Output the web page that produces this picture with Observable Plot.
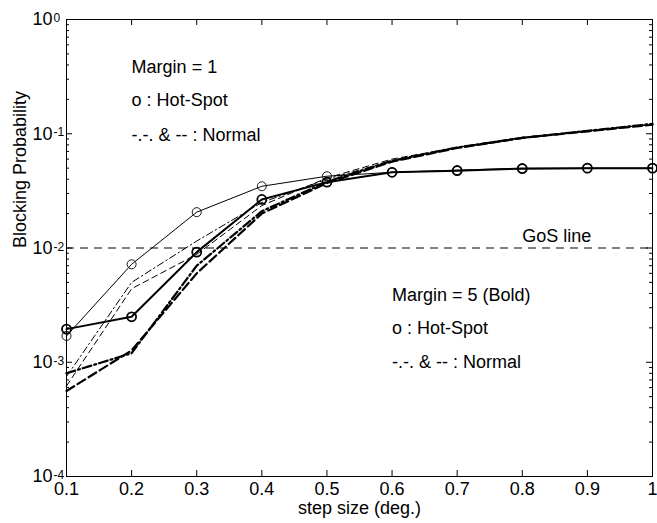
<!DOCTYPE html>
<html><head><meta charset="utf-8">
<script src="https://cdn.jsdelivr.net/npm/d3@7"></script>
<script src="https://cdn.jsdelivr.net/npm/@observablehq/plot@0.6"></script>
<style>
body{margin:0;background:#fff;}
#chart svg{font-family:"Liberation Sans",Arial,Helvetica,sans-serif;}
</style></head><body><div id="chart"></div>
<script>
// ---- data ----
const stepSize = [0.1, 0.2, 0.3, 0.4, 0.5, 0.6, 0.7, 0.8, 0.9, 1.0];
const hotSpotMargin1 = [1.7e-3, 7.2e-3, 2.06e-2, 3.47e-2, 4.25e-2, 4.6e-2, 4.8e-2, 5.0e-2, 5.0e-2, 5.0e-2];
const hotSpotMargin5 = [1.95e-3, 2.5e-3, 9.2e-3, 2.66e-2, 3.77e-2, 4.6e-2, 4.75e-2, 4.95e-2, 5.0e-2, 5.0e-2];
const normalDashDotMargin1 = [7.5e-4, 5.0e-3, 1.15e-2, 2.5e-2, 4.0e-2, 5.8e-2, 7.5e-2, 9.2e-2, 1.05e-1, 1.2e-1];
const normalDashedMargin1 = [6.2e-4, 4.4e-3, 8.8e-3, 2.35e-2, 4.1e-2, 6.0e-2, 7.6e-2, 9.3e-2, 1.06e-1, 1.21e-1];
const normalDashDotMargin5 = [8.0e-4, 1.2e-3, 7.0e-3, 2.1e-2, 3.8e-2, 5.8e-2, 7.6e-2, 9.2e-2, 1.06e-1, 1.22e-1];
const normalDashedMargin5 = [5.6e-4, 1.27e-3, 6.0e-3, 2.0e-2, 3.7e-2, 5.7e-2, 7.5e-2, 9.2e-2, 1.05e-1, 1.2e-1];
const gosLevel = [0.01];

const xTicks = [0.1, 0.2, 0.3, 0.4, 0.5, 0.6, 0.7, 0.8, 0.9, 1.0];
const xTickLabels = ["0.1", "0.2", "0.3", "0.4", "0.5", "0.6", "0.7", "0.8", "0.9", "1"];
const yTicks = [1, 1e-1, 1e-2, 1e-3, 1e-4];
const yTickExponents = ["0", "-1", "-2", "-3", "-4"];
const yMinorTicks = [];
for (const base of [1e-4, 1e-3, 1e-2, 1e-1]) for (let k = 2; k <= 9; k++) yMinorTicks.push(k * base);

const xLabel = "step size (deg.)";
const yLabel = "Blocking Probability";
const notesMargin1 = ["Margin = 1", "o : Hot-Spot", "-.-. & -- : Normal"];
const notesMargin5 = ["Margin = 5 (Bold)", "o : Hot-Spot", "-.-. & -- : Normal"];
const gosText = ["GoS line"];

const rows = vals => stepSize.map((x, i) => ({x, y: vals[i]}));

// ---- layout ----
const W = 657, H = 523, ML = 66, MR = 5, MT = 19, MB = 47;
const innerW = W - ML - MR, innerH = H - MT - MB;
const FS = 18;
const MAJOR = 6, MINOR = 3;

const plot = Plot.plot({
  width: W, height: H,
  marginLeft: ML, marginRight: MR, marginTop: MT, marginBottom: MB,
  style: {fontFamily: '"Liberation Sans", Arial, Helvetica, sans-serif', background: "#fff", color: "black"},
  x: {domain: [0.1, 1]},
  y: {type: "log", domain: [1e-4, 1]},
  marks: [
    // tick labels
    Plot.axisX({anchor: "bottom", ticks: xTicks, tickSize: 0, tickPadding: 6, fontSize: FS, label: null,
      tickFormat: d => xTickLabels[xTicks.indexOf(d)]}),
    Plot.axisY({anchor: "left", ticks: yTicks, tickSize: 0, tickPadding: 14, fontSize: FS, label: null,
      tickFormat: d => yTickExponents[yTicks.indexOf(d)]}),
    // inward tick marks on all four sides
    Plot.tickX(xTicks, {x: d => d, insetTop: innerH - MAJOR, stroke: "black"}),
    Plot.tickX(xTicks, {x: d => d, insetBottom: innerH - MAJOR, stroke: "black"}),
    Plot.tickY(yTicks, {y: d => d, insetRight: innerW - MAJOR, stroke: "black"}),
    Plot.tickY(yMinorTicks, {y: d => d, insetRight: innerW - MINOR, stroke: "black"}),
    Plot.tickY(yTicks, {y: d => d, insetLeft: innerW - MAJOR, stroke: "black"}),
    Plot.tickY(yMinorTicks, {y: d => d, insetLeft: innerW - MINOR, stroke: "black"}),
    Plot.frame({stroke: "black", strokeWidth: 1}),

    // GoS line
    Plot.ruleY(gosLevel, {stroke: "black", strokeWidth: 1, strokeDasharray: "8,6"}),

    // Normal curves
    Plot.line(rows(normalDashDotMargin1), {x: "x", y: "y", stroke: "black", strokeWidth: 1, strokeDasharray: "7,3,1.5,3"}),
    Plot.line(rows(normalDashedMargin1), {x: "x", y: "y", stroke: "black", strokeWidth: 1, strokeDasharray: "6,4"}),
    Plot.line(rows(normalDashDotMargin5), {x: "x", y: "y", stroke: "black", strokeWidth: 2.2, strokeDasharray: "9,3,2,3"}),
    Plot.line(rows(normalDashedMargin5), {x: "x", y: "y", stroke: "black", strokeWidth: 2.2, strokeDasharray: "9,4"}),

    // Hot-spot curves
    Plot.line(rows(hotSpotMargin1), {x: "x", y: "y", stroke: "black", strokeWidth: 1}),
    Plot.dot(rows(hotSpotMargin1), {x: "x", y: "y", r: 4.5, stroke: "black", strokeWidth: 0.9, fill: "none"}),
    Plot.line(rows(hotSpotMargin5), {x: "x", y: "y", stroke: "black", strokeWidth: 2}),
    Plot.dot(rows(hotSpotMargin5), {x: "x", y: "y", r: 4.5, stroke: "black", strokeWidth: 1.8, fill: "none"}),

    // annotations
    Plot.text(notesMargin1, {x: 0.2, y: [0.38, 0.195, 0.0966], text: d => d, textAnchor: "start", fontSize: FS, fill: "black"}),
    Plot.text(notesMargin5, {x: 0.6, y: [3.84e-3, 1.97e-3, 9.95e-4], text: d => d, textAnchor: "start", fontSize: FS, fill: "black"}),
    Plot.text(gosText, {x: 0.8, y: [1.27e-2], text: d => d, textAnchor: "start", fontSize: FS, fill: "black"}),

    // axis titles
    Plot.text([xLabel], {text: d => d, frameAnchor: "bottom", dy: 37, fontSize: FS, fill: "black"}),
    Plot.text([yLabel], {text: d => d, frameAnchor: "left", rotate: -90, dx: -46, fontSize: FS, fill: "black"})
  ]
});

document.getElementById("chart").appendChild(plot);

// y tick labels: "10" with a raised exponent
plot.querySelectorAll('g[aria-label="y-axis tick label"] text').forEach(t => {
  const e = t.textContent;
  if (!e) return;
  t.textContent = "10";
  const sup = t.cloneNode(false);
  sup.textContent = e;
  sup.setAttribute("text-anchor", "start");
  sup.setAttribute("dy", "-0.1em");
  sup.setAttribute("dx", "1");
  sup.setAttribute("font-size", "12");
  t.parentNode.appendChild(sup);
});
</script></body></html>
